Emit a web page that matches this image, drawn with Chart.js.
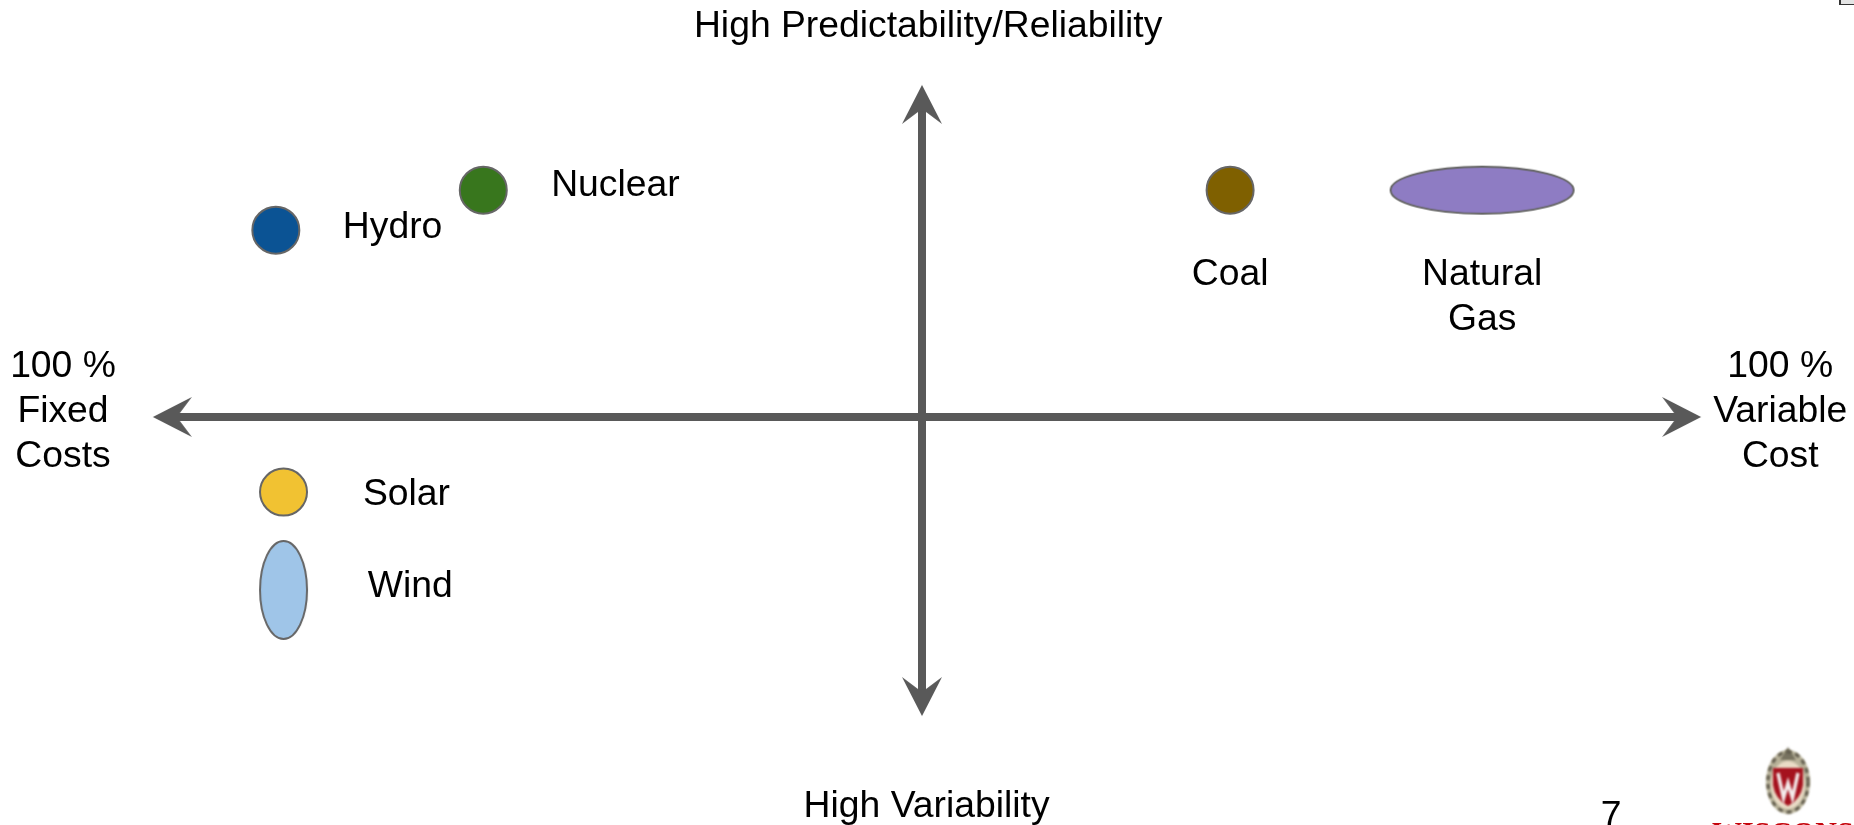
<!DOCTYPE html>
<html>
<head>
<meta charset="utf-8">
<style>html,body{margin:0;padding:0;background:#fff;overflow:hidden}canvas{display:block}</style>
<script src="https://cdn.jsdelivr.net/npm/chart.js@4"></script>
</head>
<body>
<canvas id="c" width="1854" height="825"></canvas>
<script>
// Energy sources: position on the fixed/variable cost (x) and reliability (y) axes
const sources = ['Hydro', 'Nuclear', 'Solar', 'Wind', 'Coal', 'Natural Gas'];
const costPosition = [-84.1, -57.1, -83.1, -83.1, 40.1, 72.9];
const reliability = [45.8, 55.6, -18.4, -42.4, 55.6, 55.6];
const fills = ['#0b5394', '#38761d', '#f1c232', '#9fc5e8', '#7f6000', '#8e7cc3'];
const markShapes = ['circle', 'circle', 'circle', 'tall', 'circle', 'wide'];

// Arrow axes
const horizontalAxisX = [-97.5, 98.8];
const horizontalAxisY = [0, 0];
const verticalAxisX = [0, 0];
const verticalAxisY = [76.5, -68.4];

// Text labels (one entry per line)
const labelTexts = ['High Predictability/Reliability', 'High Variability', '100 %', 'Fixed', 'Costs', '100 %', 'Variable', 'Cost', 'Hydro', 'Nuclear', 'Coal', 'Natural', 'Gas', 'Solar', 'Wind', '7'];
const labelX = [0.8, 0.6, -111.8, -111.8, -111.8, 111.7, 111.7, 111.7, -68.9, -39.9, 40.1, 72.9, 72.9, -67.1, -66.6, 89.7];
const labelY = [95.6, -95.6, 12.3, 1.3, -9.8, 12.3, 1.3, -9.8, 46.4, 56.7, 34.8, 34.8, 23.8, -19.1, -41.6, -98];

const AXIS_COLOR = '#595959';
const MARK_EDGE = '#666666';

function ellipseSprite(rx, ry, fill) {
  const s = document.createElement('canvas');
  s.width = Math.ceil(2 * rx + 6); s.height = Math.ceil(2 * ry + 6);
  const g = s.getContext('2d');
  g.beginPath();
  g.ellipse(s.width / 2, s.height / 2, rx, ry, 0, 0, Math.PI * 2);
  g.fillStyle = fill; g.fill();
  g.lineWidth = 2; g.strokeStyle = MARK_EDGE; g.stroke();
  return s;
}

function arrowSprite() {
  const s = document.createElement('canvas');
  s.width = 80; s.height = 80;
  const g = s.getContext('2d');
  g.beginPath();
  g.moveTo(40, 20); g.lineTo(60, 59); g.lineTo(44, 47); g.lineTo(36, 47); g.lineTo(20, 59);
  g.closePath();
  g.fillStyle = AXIS_COLOR; g.fill();
  return s;
}
const arrowHead = arrowSprite();

function markStyle(i) {
  if (markShapes[i] === 'tall') return ellipseSprite(23.5, 49, fills[i]);
  if (markShapes[i] === 'wide') return ellipseSprite(91.5, 23.5, fills[i]);
  return 'circle';
}

function arrowDataset(xs, ys, rotations) {
  return {
    type: 'line',
    label: 'axis',
    data: xs.map((x, i) => ({ x, y: ys[i] })),
    borderColor: AXIS_COLOR,
    borderWidth: 8,
    borderCapStyle: 'butt',
    pointStyle: arrowHead,
    pointRotation: rotations,
    pointRadius: 40,
    pointHoverRadius: 40,
    fill: false,
    tension: 0,
    clip: false,
    order: 2
  };
}

const sourceDatasets = sources.map((name, i) => ({
  type: 'scatter',
  label: name,
  data: [{ x: costPosition[i], y: reliability[i] }],
  backgroundColor: fills[i],
  borderColor: MARK_EDGE,
  borderWidth: 2,
  pointStyle: markStyle(i),
  pointRadius: 23.5,
  pointHoverRadius: 23.5,
  clip: false,
  order: 1
}));

const textPlugin = {
  id: 'textLabels',
  afterDatasetsDraw(chart) {
    const { ctx, scales: { x, y } } = chart;
    ctx.save();
    ctx.fillStyle = '#000';
    ctx.font = '37.3px "Liberation Sans", Arial, sans-serif';
    ctx.textAlign = 'center';
    ctx.textBaseline = 'middle';
    labelTexts.forEach((t, i) => ctx.fillText(t, x.getPixelForValue(labelX[i]), y.getPixelForValue(labelY[i])));
    ctx.restore();
  }
};

const logoPlugin = {
  id: 'logo',
  afterDraw(chart) {
    const ctx = chart.ctx;
    ctx.save();
    // corner fragment
    ctx.fillStyle = '#e4e4e4'; ctx.fillRect(1840, 0, 14, 4);
    ctx.fillStyle = '#333'; ctx.fillRect(1839, 0, 2, 5); ctx.fillRect(1839, 4, 15, 1);
    // crest
    ctx.filter = 'blur(0.9px)';
    ctx.beginPath(); ctx.ellipse(1788, 782, 22, 32, 0, 0, Math.PI * 2);
    ctx.fillStyle = '#b9b39a'; ctx.fill();
    ctx.beginPath(); ctx.moveTo(1788, 747); ctx.lineTo(1796, 760); ctx.lineTo(1780, 760); ctx.closePath();
    ctx.fillStyle = '#77725f'; ctx.fill();
    ctx.beginPath(); ctx.ellipse(1788, 782, 20, 30, 0, 0, Math.PI * 2);
    ctx.setLineDash([5, 4]); ctx.lineWidth = 3; ctx.strokeStyle = '#5f5a4c'; ctx.stroke(); ctx.setLineDash([]);
    ctx.beginPath(); ctx.ellipse(1788, 785, 17, 24, 0, 0, Math.PI * 2);
    ctx.fillStyle = '#eadcc6'; ctx.fill();
    ctx.beginPath();
    ctx.moveTo(1773, 768); ctx.lineTo(1803, 768); ctx.lineTo(1803, 785);
    ctx.quadraticCurveTo(1801, 799, 1788, 806);
    ctx.quadraticCurveTo(1775, 799, 1773, 785); ctx.closePath();
    ctx.fillStyle = '#a5121e'; ctx.fill();
    ctx.strokeStyle = '#f4ecec'; ctx.lineWidth = 3.5;
    ctx.beginPath(); ctx.moveTo(1778, 773); ctx.lineTo(1783.5, 798); ctx.lineTo(1788, 783); ctx.lineTo(1792.5, 798); ctx.lineTo(1798, 773); ctx.stroke();
    // wordmark, cut by the lower edge
    ctx.filter = 'blur(0.5px)';
    ctx.fillStyle = '#c5050c';
    ctx.font = 'bold 30px "Liberation Serif", serif';
    ctx.textAlign = 'left'; ctx.textBaseline = 'alphabetic';
    ctx.fillText('WISCONSIN', 1712, 842);
    ctx.restore();
  }
};

new Chart(document.getElementById('c'), {
  type: 'scatter',
  data: {
    datasets: [
      ...sourceDatasets,
      arrowDataset(horizontalAxisX, horizontalAxisY, [270, 90]),
      arrowDataset(verticalAxisX, verticalAxisY, [0, 180])
    ]
  },
  options: {
    responsive: false,
    animation: false,
    events: [],
    layout: { autoPadding: false, padding: { left: 0, right: 10, top: 9, bottom: 0 } },
    plugins: { legend: { display: false }, tooltip: { enabled: false } },
    scales: {
      x: { type: 'linear', min: -120, max: 120, display: false },
      y: { type: 'linear', min: -100, max: 100, display: false }
    }
  },
  plugins: [textPlugin, logoPlugin]
});
</script>
</body>
</html>
